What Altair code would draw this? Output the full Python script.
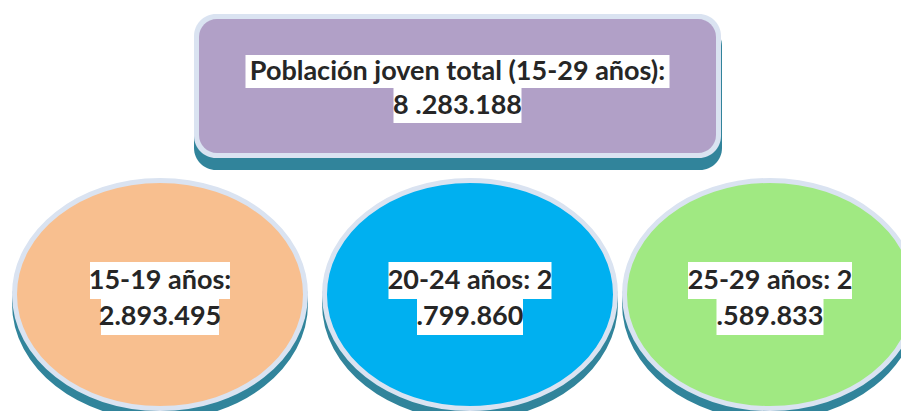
import altair as alt
import pandas as pd

# ---------------- data ----------------
total_label = "Población joven total (15-29 años):"
total_value = "8 .283.188"
group_labels = ["15-19 años:", "20-24 años: 2", "25-29 años: 2"]
group_values = ["2.893.495", ".799.860", ".589.833"]
group_colors = ["#F8BF8F", "#00B0F0", "#A0E982"]

# ---------------- layout (page pixel coordinates) ----------------
PAGE_W, PAGE_H = 909, 419
M = 8
ell_cx = [160, 470, 770]
ell_cy = 294.5
ell_w, ell_h = 296, 233
ell_sw = 5
shadow_dy = 9
box = dict(x0=194, x1=721, y0=14, y1=158)
box_shadow = dict(x0=194, x1=722, y0=24, y1=170)
box_inner = dict(x0=199, x1=716, y0=19, y1=153)

top_cx = 457.5
top_cy = [71.5, 105.5]
top_box_w = [424, 128]
top_box_y = [(55, 88), (88, 123)]
grp_cy = [280.5, 317]
grp_box_y = [(262, 299), (299, 335)]
grp_box_w = [[140, 118], [163, 106], [164, 107]]
grp_text_dx = [[0, 0], [0, 0], [0, 0]]

FONT = "Lato"
FS = 27
TEXT_COLOR = "#262626"
LIGHT = "#DAE3F1"
TEAL = "#31849B"
PURPLE = "#B1A0C7"

PLOT_W, PLOT_H = PAGE_W - 2 * M, PAGE_H - 2 * M
# the plot area is the page inside its 8px margin; one unit = one pixel
xs = alt.Scale(domain=[M, PAGE_W - M], nice=False, zero=False)
ys = alt.Scale(domain=[PAGE_H - M, M], nice=False, zero=False)

# ---------------- tables ----------------
ell = pd.DataFrame({"cx": ell_cx, "cy": [ell_cy] * 3, "fill": group_colors})
ell_sh = pd.DataFrame({"cx": ell_cx, "cy": [ell_cy + shadow_dy] * 3})

rows = []
for i, t in enumerate([total_label, total_value]):
    rows.append(dict(text=t, cx=top_cx, cy=top_cy[i],
                     x0=top_cx - top_box_w[i] / 2, x1=top_cx + top_box_w[i] / 2,
                     y0=top_box_y[i][0], y1=top_box_y[i][1]))
for g in range(3):
    for i, t in enumerate([group_labels[g], group_values[g]]):
        c = ell_cx[g] + grp_text_dx[g][i]
        rows.append(dict(text=t, cx=c, cy=grp_cy[i],
                         x0=c - grp_box_w[g][i] / 2, x1=c + grp_box_w[g][i] / 2,
                         y0=grp_box_y[i][0], y1=grp_box_y[i][1]))
labels = pd.DataFrame(rows)

pw = ell_w - ell_sw
k = (ell_h - ell_sw) / pw
ellipse_path = f"M-1,0A1,{k:.4f},0,1,1,1,0A1,{k:.4f},0,1,1,-1,0Z"
size = pw * pw


def rect_layer(d, color, radius):
    df = pd.DataFrame([d])
    return alt.Chart(df).mark_rect(color=color, cornerRadius=radius).encode(
        x=alt.X("x0:Q", scale=xs, axis=None), x2="x1:Q",
        y=alt.Y("y0:Q", scale=ys, axis=None), y2="y1:Q")


box_sh = rect_layer(box_shadow, TEAL, 22)
box_lt = rect_layer(box, LIGHT, 22)
box_in = rect_layer(box_inner, PURPLE, 18)

ell_shadow = alt.Chart(ell_sh).mark_point(
    shape=ellipse_path, filled=True, fill=TEAL, stroke=TEAL,
    strokeWidth=ell_sw, opacity=1, size=size).encode(
    x=alt.X("cx:Q", scale=xs, axis=None), y=alt.Y("cy:Q", scale=ys, axis=None))

ell_main = alt.Chart(ell).mark_point(
    shape=ellipse_path, filled=True, stroke=LIGHT,
    strokeWidth=ell_sw, opacity=1, fillOpacity=1, strokeOpacity=1, size=size).encode(
    x=alt.X("cx:Q", scale=xs, axis=None), y=alt.Y("cy:Q", scale=ys, axis=None),
    fill=alt.Fill("fill:N", scale=None))

text_bg = alt.Chart(labels).mark_rect(color="white").encode(
    x=alt.X("x0:Q", scale=xs, axis=None), x2="x1:Q",
    y=alt.Y("y0:Q", scale=ys, axis=None), y2="y1:Q")

text = alt.Chart(labels).mark_text(
    font=FONT, fontWeight="bold", fontSize=FS, color=TEXT_COLOR,
    align="center", baseline="middle").encode(
    x=alt.X("cx:Q", scale=xs, axis=None), y=alt.Y("cy:Q", scale=ys, axis=None),
    text="text:N")

chart = alt.layer(box_sh, box_lt, box_in, ell_shadow, ell_main, text_bg, text).properties(
    width=PLOT_W, height=PLOT_H,
    autosize=alt.AutoSizeParams(type="none"),
    padding=0, background="white",
).configure_view(stroke=None)

chart.save("out.html", embed_options={"renderer": "svg", "actions": False})
